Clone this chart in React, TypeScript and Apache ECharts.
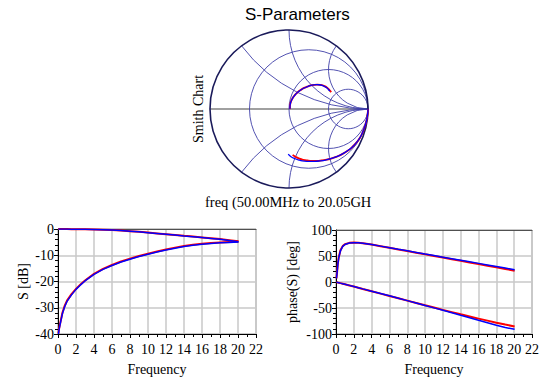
import React, { useEffect, useRef } from 'react';
import * as echarts from 'echarts';

// Frequency points (GHz)
const freqGHz = [0.05, 0.1, 0.2, 0.3, 0.5, 0.75, 1, 1.5, 2, 2.5, 3, 4, 5, 6, 7, 8, 9, 10, 11, 12, 13, 14, 15, 16, 17, 18, 19, 20.05];

// Measured (red) and model (blue) S-parameters
const s11DbRed = [-39.8, -38.3, -36.6, -35.0, -31.8, -29.2, -27.3, -24.8, -22.8, -21.1, -19.6, -17.1, -15.2, -13.7, -12.4, -11.3, -10.3, -9.4, -8.6, -7.8, -7.1, -6.5, -6.0, -5.6, -5.3, -5.1, -4.95, -4.8];
const s11DbBlue = [-40.0, -38.6, -36.9, -35.3, -32.1, -29.5, -27.6, -25.1, -23.0, -21.3, -19.8, -17.3, -15.4, -13.9, -12.6, -11.5, -10.5, -9.6, -8.8, -8.0, -7.3, -6.7, -6.2, -5.8, -5.5, -5.25, -5.1, -4.95];
const s21DbRed = [0, 0, 0, -0.01, -0.01, -0.02, -0.03, -0.05, -0.07, -0.1, -0.13, -0.2, -0.28, -0.42, -0.6, -0.82, -1.08, -1.37, -1.67, -1.97, -2.28, -2.6, -2.9, -3.2, -3.5, -3.85, -4.25, -4.7];
const s21DbBlue = [0, 0, 0, -0.01, -0.01, -0.02, -0.03, -0.05, -0.07, -0.1, -0.13, -0.2, -0.28, -0.42, -0.6, -0.83, -1.09, -1.39, -1.7, -2.01, -2.33, -2.65, -2.95, -3.25, -3.58, -3.95, -4.38, -4.85];
const s11PhRed = [7, 15, 34, 47, 61, 69, 72.5, 75.3, 75.8, 75.5, 74.7, 72, 68.9, 65.8, 62.6, 59.5, 56.4, 53.2, 50.1, 47, 43.9, 40.8, 37.6, 34.5, 31.4, 28.3, 25.1, 21.8];
const s11PhBlue = [7, 14, 33, 46, 60, 68.5, 72, 75, 75.6, 75.3, 74.6, 72, 69, 66, 62.9, 59.9, 56.9, 53.8, 50.8, 47.8, 44.8, 41.8, 38.8, 35.8, 32.8, 29.8, 26.8, 23.6];
const s21PhRed = [-0.2, -0.4, -0.9, -1.3, -2.2, -3.3, -4.4, -6.6, -8.8, -11, -13.3, -17.8, -22.3, -26.8, -31.3, -35.8, -40.3, -44.8, -49.2, -53.6, -57.9, -62.2, -66.3, -70.4, -74.3, -78.2, -81.9, -85.5];
const s21PhBlue = [-0.2, -0.4, -0.9, -1.3, -2.2, -3.3, -4.3, -6.5, -8.7, -10.9, -13.2, -17.6, -22.1, -26.6, -31.2, -35.8, -40.4, -45.1, -49.8, -54.5, -59.2, -64.0, -68.7, -73.5, -78.2, -83.0, -87.6, -91.0];

// Smith chart grid values
const smithResistance = [1 / 3, 1, 3];
const smithReactance = [0.5, 1, 2, -0.5, -1, -2];

// Axis ranges / ticks
const freqAxis = { min: 0, max: 22, interval: 2 };
const dbAxis = { min: -40, max: 0, interval: 10 };
const phaseAxis = { min: -100, max: 100, interval: 50 };

const titleText = 'S-Parameters';
const smithLabel = 'Smith Chart';
const freqRangeText = 'freq (50.00MHz to 20.05GH';

const serif = '"Liberation Serif", "Times New Roman", serif';
const sans = '"Liberation Sans", Arial, sans-serif';
const RED = '#ff0000';
const BLUE = '#0000ff';
const GRIDBLUE = '#4040a8';

const toSmith = (db: number[], ph: number[]) =>
  db.map((d, i) => {
    const m = Math.pow(10, d / 20);
    const a = (ph[i] * Math.PI) / 180;
    return [m * Math.cos(a), m * Math.sin(a)];
  });

const pairs = (ys: number[]) => freqGHz.map((f, i) => [f, ys[i]]);

function rectXAxis(gridIndex: number) {
  return {
    gridIndex,
    type: 'value',
    ...freqAxis,
    name: 'Frequency',
    nameLocation: 'middle',
    nameGap: 28,
    nameTextStyle: { fontFamily: serif, fontSize: 14, color: '#000' },
    axisLine: { show: true, onZero: false, lineStyle: { color: '#000', width: 1 } },
    axisTick: { show: true, inside: false, length: 4, lineStyle: { color: '#000' } },
    minorTick: { show: true, splitNumber: 2, length: 3, lineStyle: { color: '#000' } },
    splitLine: { show: true, lineStyle: { color: '#c8c8c8', width: 1.5 } },
    axisLabel: { fontFamily: serif, fontSize: 14, color: '#000', margin: 8 },
  };
}

function topFrameAxis(gridIndex: number) {
  return {
    gridIndex,
    type: 'value',
    ...freqAxis,
    position: 'top',
    axisLine: { show: true, onZero: false, lineStyle: { color: '#505050', width: 1 } },
    axisTick: { show: false },
    axisLabel: { show: false },
    splitLine: { show: false },
  };
}

function rectYAxis(gridIndex: number, range: any, name: string, nameGap: number) {
  return {
    gridIndex,
    type: 'value',
    ...range,
    name,
    nameLocation: 'middle',
    nameGap,
    nameTextStyle: { fontFamily: serif, fontSize: 14, color: '#000' },
    axisLine: { show: true, onZero: false, lineStyle: { color: '#000', width: 1 } },
    axisTick: { show: true, inside: false, length: 4, lineStyle: { color: '#000' } },
    minorTick: { show: true, splitNumber: 5, length: 3, lineStyle: { color: '#000' } },
    splitLine: { show: true, lineStyle: { color: '#c8c8c8', width: 1.5 } },
    axisLabel: { fontFamily: serif, fontSize: 14, color: '#000', margin: 4 },
  };
}

function lineSeries(name: string, xi: number, yi: number, data: any[], color: string, width: number, smooth = false) {
  return {
    name,
    type: 'line',
    xAxisIndex: xi,
    yAxisIndex: yi,
    data,
    showSymbol: false,
    symbol: 'none',
    smooth,
    lineStyle: { color, width },
    z: color === BLUE ? 4 : 3,
  };
}

export default function App() {
  const ref = useRef<HTMLDivElement>(null);
  useEffect(() => {
    if (!ref.current) return;
    const chart = echarts.init(ref.current, null, { renderer: 'svg' });

    const smithGridData: number[][] = [
      [3, 0],
      ...smithResistance.map((r) => [0, r]),
      ...smithReactance.map((x) => [1, x]),
      [0, 0],
    ];

    const option: any = {
      animation: false,
      backgroundColor: '#fff',
      grid: [
        { left: 210, top: 30, width: 158, height: 158, show: false },
        { left: 58, top: 229, width: 198, height: 105, show: true, borderColor: '#999', borderWidth: 1 },
        { left: 336, top: 230, width: 199, height: 104, show: true, borderColor: '#999', borderWidth: 1 },
      ],
      xAxis: [
        { gridIndex: 0, type: 'value', min: -1, max: 1, show: false },
        rectXAxis(1),
        rectXAxis(2),
        topFrameAxis(1),
        topFrameAxis(2),
      ],
      yAxis: [
        { gridIndex: 0, type: 'value', min: -1, max: 1, show: false },
        rectYAxis(1, dbAxis, 'S [dB]', 28),
        rectYAxis(2, phaseAxis, 'phase(S) [deg]', 37),
      ],
      graphic: [
        {
          type: 'text',
          left: 245,
          top: 6,
          style: { text: titleText, fontFamily: sans, fontSize: 17, fill: '#000' },
        },
        {
          type: 'text',
          x: 198,
          y: 109,
          rotation: Math.PI / 2,
          style: { text: smithLabel, fontFamily: serif, fontSize: 14, fill: '#000', align: 'center', verticalAlign: 'middle' },
        },
        {
          type: 'text',
          x: 205,
          y: 202,
          style: { text: freqRangeText, fontFamily: serif, fontSize: 14.5, fill: '#000', align: 'left', verticalAlign: 'middle' },
        },
      ],
      series: [
        {
          type: 'custom',
          xAxisIndex: 0,
          yAxisIndex: 0,
          clip: false,
          silent: true,
          z: 1,
          data: smithGridData,
          renderItem: (params: any, api: any) => {
            const kind = api.value(0);
            const v = api.value(1);
            const c0 = api.coord([0, 0]);
            const R = api.size([1, 0])[0];
            if (kind === 3) {
              return {
                type: 'line',
                shape: { x1: c0[0] - R, y1: c0[1], x2: c0[0] + R, y2: c0[1] },
                style: { stroke: '#808080', lineWidth: 1.5 },
              };
            }
            if (kind === 0) {
              const c = api.coord([v / (1 + v), 0]);
              const outer = v === 0;
              return {
                type: 'circle',
                shape: { cx: c[0], cy: c[1], r: R / (1 + v) },
                style: { fill: 'none', stroke: outer ? '#1a1a5a' : GRIDBLUE, lineWidth: outer ? 1.6 : 1, opacity: outer ? 1 : 0.9 },
              };
            }
            const ax = Math.abs(v);
            const c = api.coord([1, 1 / v]);
            let a = Math.atan2(-(v * v - 1) / ax, -2);
            if (a < Math.PI / 2) a += 2 * Math.PI;
            const start = v > 0 ? Math.PI / 2 : -a;
            const end = v > 0 ? a : -Math.PI / 2;
            return {
              type: 'arc',
              shape: { cx: c[0], cy: c[1], r: R / ax, startAngle: start, endAngle: end, clockwise: true },
              style: { fill: 'none', stroke: GRIDBLUE, lineWidth: 1, opacity: 0.9 },
            };
          },
        },
        lineSeries('S11 meas', 0, 0, toSmith(s11DbRed, s11PhRed), RED, 1.8, true),
        lineSeries('S11 model', 0, 0, toSmith(s11DbBlue, s11PhBlue), BLUE, 1.3, true),
        lineSeries('S21 meas', 0, 0, toSmith(s21DbRed, s21PhRed), RED, 1.8, true),
        lineSeries('S21 model', 0, 0, toSmith(s21DbBlue, s21PhBlue), BLUE, 1.3, true),

        lineSeries('dB(S21) meas', 1, 1, pairs(s21DbRed), RED, 2),
        lineSeries('dB(S21) model', 1, 1, pairs(s21DbBlue), BLUE, 1.5),
        lineSeries('dB(S11) meas', 1, 1, pairs(s11DbRed), RED, 2),
        lineSeries('dB(S11) model', 1, 1, pairs(s11DbBlue), BLUE, 1.5),

        lineSeries('phase(S11) meas', 2, 2, pairs(s11PhRed), RED, 2),
        lineSeries('phase(S11) model', 2, 2, pairs(s11PhBlue), BLUE, 1.5),
        lineSeries('phase(S21) meas', 2, 2, pairs(s21PhRed), RED, 2),
        lineSeries('phase(S21) model', 2, 2, pairs(s21PhBlue), BLUE, 1.5),
      ],
    };

    chart.setOption(option);
    return () => chart.dispose();
  }, []);

  return (
    <div
      ref={ref}
      style={{ position: 'absolute', left: 0, top: 0, width: 542, height: 379, background: '#fff' }}
    />
  );
}
